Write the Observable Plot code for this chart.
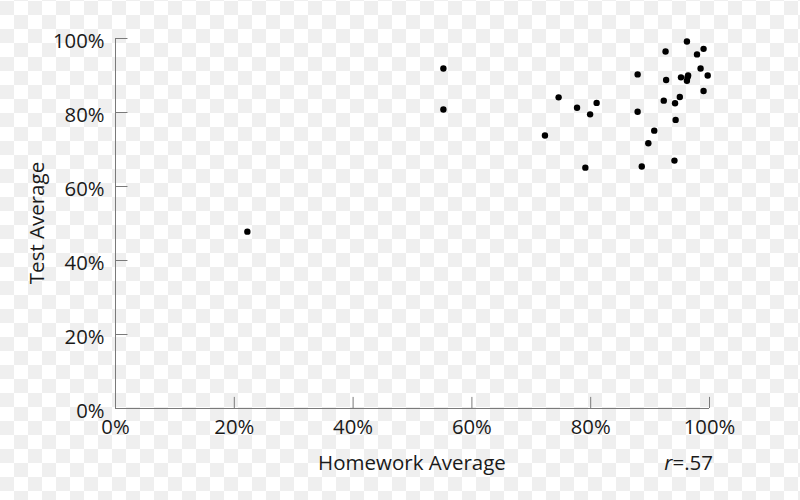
<!DOCTYPE html>
<html><head><meta charset="utf-8">
<script src="https://cdn.jsdelivr.net/npm/d3@7"></script>
<script src="https://cdn.jsdelivr.net/npm/@observablehq/plot@0.6"></script>
<style>
html,body{margin:0;padding:0;}
html{background:#fff;}
body{width:800px;height:500px;
background-image:url("data:image/svg+xml,%3Csvg xmlns='http://www.w3.org/2000/svg' width='28' height='28'%3E%3Crect width='28' height='28' fill='%23ffffff'/%3E%3Crect width='14' height='14' fill='%23efefef'/%3E%3Crect x='14' y='14' width='14' height='14' fill='%23efefef'/%3E%3C/svg%3E");
background-repeat:repeat;background-position:0 1px;}
#chart svg{display:block;}
</style></head><body><div id="chart"></div>
<script>
const homework = [96.2, 99.0, 97.9, 92.6, 98.5, 99.7, 87.9, 92.7, 95.2, 96.3, 96.4, 96.2, 99.0, 74.6, 81.0, 77.7, 79.9, 87.9, 92.3, 95.0, 94.2, 94.3, 90.7, 89.7, 72.3, 79.1, 88.6, 94.1, 55.2, 55.2, 22.2];
const test =     [99.2, 97.2, 95.7, 96.5, 91.9, 90.0, 90.3, 88.8, 89.5, 89.5, 90.0, 88.6, 85.8, 84.1, 82.6, 81.3, 79.5, 80.2, 83.2, 84.2, 82.5, 78.0, 75.1, 71.7, 73.8, 65.1, 65.4, 67.0, 91.9, 80.8, 47.8];
const xTicks = [0, 20, 40, 60, 80, 100];
const yTicks = [0, 20, 40, 60, 80, 100];
const xTitle = "Homework Average";
const yTitle = "Test Average";
const rLabel = ["r", "=.57"];

const data = homework.map((h, i) => ({homework: h, test: test[i]}));
const fmt = d => d + "%";
const axisColor = "#7a7a7a";
const textColor = "#1a1a1a";

const plot = Plot.plot({
  width: 800, height: 500,
  marginLeft: 115, marginRight: 91, marginTop: 38, marginBottom: 92,
  style: {background: "transparent", fontFamily: "'Open Sans', sans-serif", fontSize: "20px", color: textColor, overflow: "visible"},
  x: {domain: [0, 100]},
  y: {domain: [0, 100]},
  marks: [
    Plot.axisX({ticks: xTicks, tickFormat: fmt, tickSize: 0, tickPadding: 11, label: null, fontSize: 20.3}),
    Plot.axisY({ticks: yTicks, tickFormat: fmt, tickSize: 0, tickPadding: 11, label: null, fontSize: 20.3, dy: 3}),
    Plot.ruleX(xTicks.slice(1), {x: d => d, y1: 0, y2: 3.0, stroke: axisColor}),
    Plot.ruleY(yTicks.slice(1), {y: d => d, x1: 0, x2: 2.1, stroke: axisColor}),
    Plot.ruleY([0], {x1: 0, x2: 100, stroke: axisColor}),
    Plot.ruleX([0], {y1: 0, y2: 100, stroke: axisColor}),
    Plot.dot(data, {x: "homework", y: "test", r: 3.2, fill: "black", stroke: "none"})
  ]
});
document.getElementById("chart").appendChild(plot);

const svg = d3.select(plot);
const xs = plot.scale("x"), ys = plot.scale("y");
svg.append("text")
  .attr("x", (xs.apply(0) + xs.apply(100)) / 2).attr("y", 469.5)
  .attr("text-anchor", "middle").attr("fill", textColor).attr("font-size", 20.5)
  .text(xTitle);
svg.append("text")
  .attr("transform", `translate(44,${(ys.apply(0) + ys.apply(100)) / 2}) rotate(-90)`)
  .attr("text-anchor", "middle").attr("fill", textColor).attr("font-size", 20.5)
  .text(yTitle);
const rt = svg.append("text")
  .attr("x", 713).attr("y", 469.5)
  .attr("text-anchor", "end").attr("fill", textColor).attr("font-size", 20.5);
rt.append("tspan").attr("font-style", "italic").text(rLabel[0]);
rt.append("tspan").text(rLabel[1]);
</script></body></html>
